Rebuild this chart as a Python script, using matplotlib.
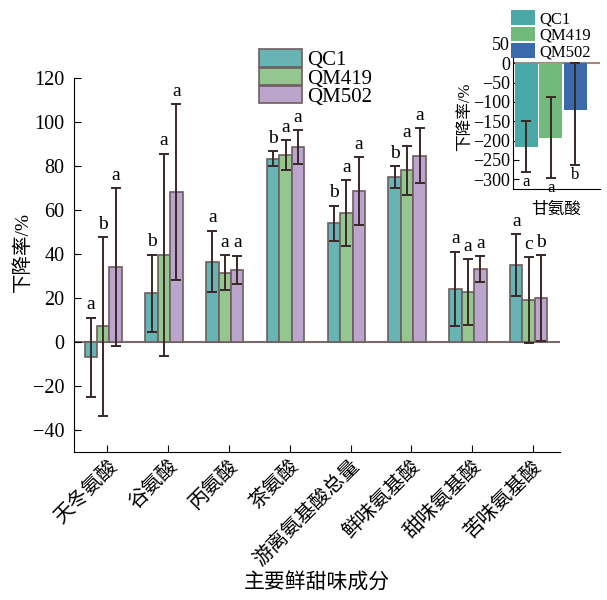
import numpy as np
import matplotlib
matplotlib.use('Agg')
import matplotlib.pyplot as plt

plt.rcParams['font.family'] = ['Liberation Serif', 'Noto Sans CJK SC']

# main chart data
categories = ['天冬氨酸', '谷氨酸', '丙氨酸', '茶氨酸', '游离氨基酸总量',
              '鲜味氨基酸', '甜味氨基酸', '苦味氨基酸']
series = ['QC1', 'QM419', 'QM502']
qc1 = [-7, 22, 36.5, 83.3, 54, 75, 24, 35]
qc1_err = [18, 17.7, 14, 3.5, 8, 5, 17, 14]
qm419 = [7, 39.5, 31.5, 85, 58.5, 78, 22.5, 19]
qm419_err = [40.5, 46, 8, 6.7, 15, 11.3, 15, 19.5]
qm502 = [34, 68, 32.7, 88.5, 68.6, 84.7, 33, 20]
qm502_err = [36, 40, 6.4, 7.7, 15.5, 12.5, 6, 19.5]
letters_qc1 = ['a', 'b', 'a', 'b', 'b', 'b', 'a', 'a']
letters_qm419 = ['b', 'a', 'a', 'a', 'a', 'a', 'a', 'c']
letters_qm502 = ['a', 'a', 'a', 'a', 'a', 'a', 'a', 'b']

# inset data (甘氨酸)
gly = [-216, -192, -120]
gly_err_low = [66, 105, 143]
gly_err_up = [66, 105, 120]
gly_letters = ['a', 'a', 'b']

colors = ['#68b4b4', '#94c690', '#bba5cc']
inset_colors = ['#4aa9a6', '#72ba7c', '#3b6aaa']
edge = '#6e5e5e'
ecol = '#3a2828'

fig = plt.figure(figsize=(6.07, 6.00), dpi=100)
ax = fig.add_axes([0.122, 0.247, 0.801, 0.623])

x = np.arange(len(categories))
w = 0.205
vals = [qc1, qm419, qm502]
errs = [qc1_err, qm419_err, qm502_err]
lets = [letters_qc1, letters_qm419, letters_qm502]
for i in range(3):
    xi = x - 0.07 + (i - 1) * w
    ax.bar(xi, vals[i], w, color=colors[i], edgecolor=edge, linewidth=1.2,
           label=series[i], zorder=2)
    ax.errorbar(xi, vals[i], yerr=errs[i], fmt='none', ecolor=ecol,
                elinewidth=1.4, capsize=3.5, capthick=1.4, zorder=3)
    for xx, v, e, l in zip(xi, vals[i], errs[i], lets[i]):
        ax.text(xx, v + e + 2.0, l, ha='center', va='bottom', fontsize=14)

ax.axhline(0, color='#7a6a6a', lw=1.5, zorder=1)
ax.set_xlim(-0.55, 7.45)
ax.set_ylim(-50, 120)
ax.set_yticks(np.arange(-40, 121, 20))
ax.set_xticks(x)
ax.set_xticklabels(categories, rotation=45, ha='right', va='top',
                   rotation_mode='anchor', fontsize=14)
ax.tick_params(direction='in', labelsize=14.5, length=5)
ax.tick_params(axis='y', pad=7)
ax.tick_params(axis='x', pad=4)
for s in ['top', 'right']:
    ax.spines[s].set_visible(False)
ax.set_ylabel('下降率/%', fontsize=14)
ax.yaxis.set_label_coords(-0.086, 0.535)
ax.set_xlabel('主要鲜甜味成分', fontsize=15, labelpad=2)

ax.legend(loc='upper left', bbox_to_anchor=(0.355, 1.11), frameon=False,
          fontsize=15, handlelength=2.05, handleheight=0.9, labelspacing=-0.12,
          handletextpad=0.25, borderpad=0.1)

# inset
ins = fig.add_axes([0.845, 0.685, 0.143, 0.242])
gx = np.arange(3)
for i in range(3):
    ins.bar(gx[i], gly[i], 0.95, color=inset_colors[i], zorder=2,
            label=series[i])
ins.errorbar(gx, gly, yerr=[gly_err_low, gly_err_up], fmt='none',
             ecolor=ecol, elinewidth=1.4, capsize=3.5, capthick=1.4, zorder=3)
for xx, v, e, l in zip(gx, gly, gly_err_low, gly_letters):
    ins.text(xx, v - e - 4, l, ha='center', va='top', fontsize=12)
ins.axhline(0, color='#a08a80', lw=1.5, zorder=1)
ins.set_xlim(-0.55, 3.0)
ins.set_ylim(-325, 50)
ins.set_yticks(np.arange(-300, 51, 50))
ins.set_xticks([])
ins.tick_params(direction='in', labelsize=13, length=4, pad=2)
for s in ['top', 'right']:
    ins.spines[s].set_visible(False)
ins.set_ylabel('下降率/%', fontsize=12, labelpad=0)
ins.set_xlabel('甘氨酸', fontsize=12, labelpad=9)
ins.legend(loc='upper right', bbox_to_anchor=(1.02, 1.3), frameon=False,
           fontsize=12, handlelength=1.45, handleheight=1.0, labelspacing=-0.05,
           handletextpad=0.3, borderpad=0.1)

fig.savefig('out.png', dpi=100)
